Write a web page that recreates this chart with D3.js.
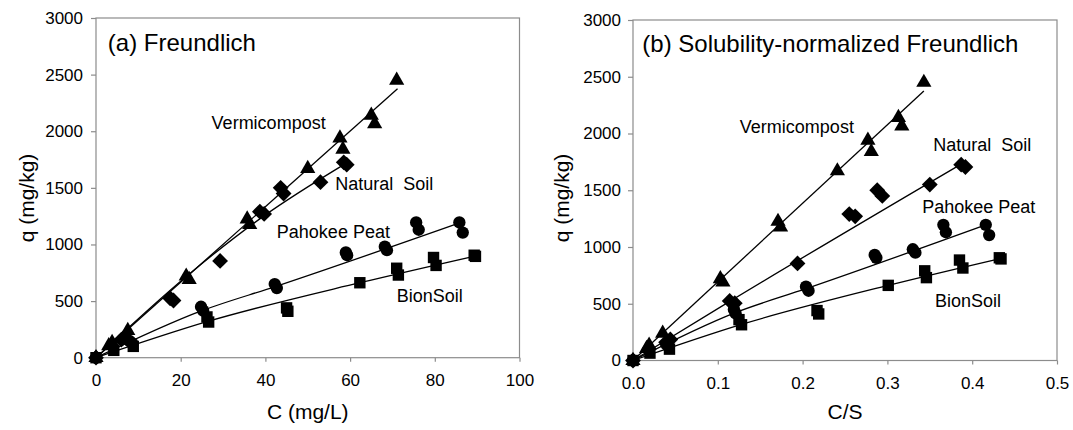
<!DOCTYPE html>
<html>
<head>
<meta charset="utf-8">
<script src="https://cdn.jsdelivr.net/npm/d3@7"></script>
<style>
  body { margin: 0; background: #fff; }
  svg { display: block; font-family: "Liberation Sans", Arial, sans-serif; }
  text { fill: #000; }
</style>
</head>
<body>
<svg id="chart" width="1073" height="430"></svg>
<script>
// series, in drawing order
var seriesNames = ["Vermicompost", "Natural  Soil", "Pahokee Peat", "BionSoil"];
var seriesShapes = ["triangle", "diamond", "circle", "square"];

// q (mg/kg) for every point, same in both panels
var qVermi   = [0, 105, 135, 240, 720, 690, 1225, 1175, 1670, 1940, 1840, 2140, 2065, 2450];
var qNatural = [0, 160, 185, 525, 505, 855, 1290, 1270, 1500, 1450, 1550, 1725, 1705];
var qPeat    = [0, 145, 125, 450, 415, 650, 615, 930, 905, 980, 950, 1195, 1130, 1195, 1105];
var qBion    = [0, 65, 100, 360, 315, 440, 410, 662, 790, 730, 885, 815, 905, 895];

// C (mg/L), panel (a)
var cVermi   = [0, 3.0, 3.8, 7.5, 21.3, 22.0, 35.7, 36.3, 50.0, 57.6, 58.3, 65.0, 65.8, 71.0];
var cNatural = [0, 6.0, 6.8, 17.5, 18.3, 29.3, 38.7, 39.7, 43.6, 44.3, 53.0, 58.5, 59.2];
var cPeat    = [0, 8.0, 8.6, 24.8, 25.3, 42.2, 42.7, 59.0, 59.3, 68.2, 68.7, 75.6, 76.2, 85.8, 86.6];
var cBion    = [0, 4.2, 8.8, 26.2, 26.6, 45.0, 45.3, 62.3, 71.0, 71.4, 79.7, 80.3, 89.3, 89.6];

// C/S, panel (b)
var csVermi   = [0, 0.016, 0.019, 0.035, 0.103, 0.106, 0.171, 0.174, 0.241, 0.277, 0.281, 0.313, 0.317, 0.343];
var csNatural = [0, 0.039, 0.044, 0.114, 0.120, 0.194, 0.255, 0.262, 0.288, 0.294, 0.350, 0.387, 0.392];
var csPeat    = [0, 0.039, 0.042, 0.119, 0.121, 0.204, 0.207, 0.285, 0.287, 0.330, 0.333, 0.366, 0.369, 0.416, 0.420];
var csBion    = [0, 0.020, 0.043, 0.125, 0.128, 0.217, 0.219, 0.301, 0.344, 0.346, 0.385, 0.389, 0.432, 0.434];

// fitted Freundlich lines
var fitA = [
  [[0, 0], [71.2, 2375]],
  [[0, 0], [21.4, 720], [39.5, 1248], [59.4, 1725]],
  [[0, 0], [25, 415], [42.5, 630], [86.2, 1195]],
  [[0, 0], [26.4, 320], [62.3, 662], [89.5, 898]]
];
var fitB = [
  [[0, 0], [0.343, 2375]],
  [[0, 0], [0.115, 525], [0.388, 1735]],
  [[0, 0], [0.12, 420], [0.205, 635], [0.416, 1195]],
  [[0, 0], [0.128, 318], [0.301, 662], [0.433, 898]]
];

var yTicks  = [0, 500, 1000, 1500, 2000, 2500, 3000];
var xTicksA = [0, 20, 40, 60, 80, 100];
var xTicksB = [0, 0.1, 0.2, 0.3, 0.4, 0.5];

var svg = d3.select("#chart");
svg.append("rect").attr("width", 1073).attr("height", 430).attr("fill", "#fff");

var axisGray = "#8c8c8c";

function symbolPath(shape) {
  if (shape === "triangle") return d3.symbol().type(d3.symbolTriangle).size(100)();
  if (shape === "diamond") return d3.symbol().type(d3.symbolSquare).size(125)();
  if (shape === "circle") return d3.symbol().type(d3.symbolCircle).size(120)();
  return d3.symbol().type(d3.symbolSquare).size(130)();
}

function drawPanel(cfg) {
  var x = d3.scaleLinear().domain(cfg.xDomain).range([cfg.left, cfg.right]);
  var y = d3.scaleLinear().domain([0, 3000]).range([cfg.bottom, cfg.top]);
  var g = svg.append("g");

  // plot frame
  g.append("rect")
    .attr("x", cfg.left).attr("y", cfg.top)
    .attr("width", cfg.right - cfg.left).attr("height", cfg.bottom - cfg.top)
    .attr("fill", "none").attr("stroke", axisGray).attr("stroke-width", 1.2);

  var yAxis = g.append("g")
    .attr("transform", "translate(" + cfg.left + ",0)")
    .call(d3.axisLeft(y).tickValues(yTicks).tickFormat(d3.format("d"))
      .tickSize(5).tickPadding(cfg.yPad).tickSizeOuter(0));
  var xAxis = g.append("g")
    .attr("transform", "translate(0," + cfg.bottom + ")")
    .call(d3.axisBottom(x).tickValues(cfg.xTicks).tickFormat(cfg.xFormat)
      .tickSize(4).tickPadding(12).tickSizeOuter(0));
  [yAxis, xAxis].forEach(function (a) {
    a.select(".domain").remove();
    a.selectAll("line").attr("stroke", axisGray).attr("stroke-width", 1.2);
    a.selectAll("text").attr("font-size", 17).attr("font-family", "Liberation Sans, Arial, sans-serif").attr("fill", "#000");
  });

  // fitted lines
  var line = d3.line().x(function (d) { return x(d[0]); }).y(function (d) { return y(d[1]); })
    .curve(d3.curveMonotoneX);
  cfg.fits.forEach(function (f) {
    g.append("path").attr("d", line(f)).attr("fill", "none")
      .attr("stroke", "#000").attr("stroke-width", 1.3);
  });

  // markers
  cfg.xs.forEach(function (xs, k) {
    var path = symbolPath(seriesShapes[k]);
    var rot = seriesShapes[k] === "diamond" ? " rotate(45)" : "";
    g.append("g").selectAll("path")
      .data(xs.map(function (v, i) { return [v, cfg.qs[k][i]]; }))
      .enter().append("path")
      .attr("d", path)
      .attr("transform", function (d) { return "translate(" + x(d[0]) + "," + y(d[1]) + ")" + rot; })
      .attr("fill", "#000");
  });

  // series labels
  seriesNames.forEach(function (name, k) {
    g.append("text")
      .attr("x", x(cfg.labelPos[k][0])).attr("y", y(cfg.labelPos[k][1]))
      .attr("font-size", 18).style("white-space", "pre")
      .text(name);
  });

  // panel title
  g.append("text")
    .attr("x", x(cfg.titlePos[0])).attr("y", y(cfg.titlePos[1]))
    .attr("font-size", 24).text(cfg.title);

  // axis titles
  g.append("text")
    .attr("x", (cfg.left + cfg.right) / 2).attr("y", 419)
    .attr("text-anchor", "middle").attr("font-size", 21).text(cfg.xLabel);
  g.append("text")
    .attr("transform", "translate(" + cfg.yLabelX + ",198) rotate(-90)")
    .attr("text-anchor", "middle").attr("font-size", 21).text("q (mg/kg)");
}

drawPanel({
  left: 96, right: 519.5, top: 18, bottom: 357.7, yPad: 8,
  xDomain: [0, 100], xTicks: xTicksA, xFormat: d3.format("d"),
  xs: [cVermi, cNatural, cPeat, cBion],
  qs: [qVermi, qNatural, qPeat, qBion],
  fits: fitA,
  labelPos: [[27.3, 2024], [56.5, 1480], [42.7, 1055], [71.0, 488]],
  titlePos: [2.8, 2710],
  title: "(a) Freundlich",
  xLabel: "C (mg/L)", yLabelX: 33.5
});

drawPanel({
  left: 633, right: 1057, top: 20, bottom: 360.5, yPad: 7,
  xDomain: [0, 0.5], xTicks: xTicksB, xFormat: d3.format(".1f"),
  xs: [csVermi, csNatural, csPeat, csBion],
  qs: [qVermi, qNatural, qPeat, qBion],
  fits: fitB,
  labelPos: [[0.126, 2003], [0.354, 1849], [0.341, 1297], [0.356, 473]],
  titlePos: [0.011, 2718],
  title: "(b) Solubility-normalized Freundlich",
  xLabel: "C/S", yLabelX: 569
});
</script>
</body>
</html>
